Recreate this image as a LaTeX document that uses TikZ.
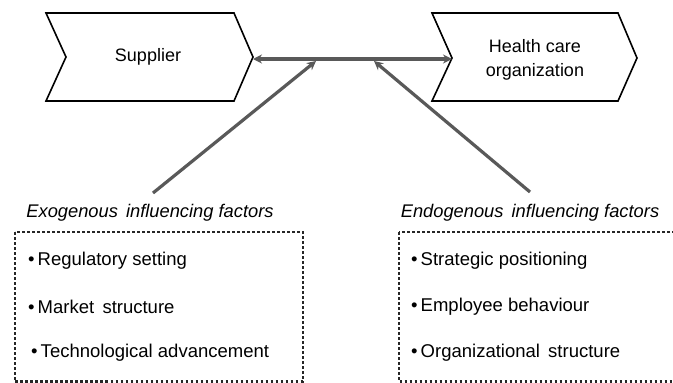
\documentclass[tikz,border=0pt]{standalone}
\usepackage{fontspec}
\setmainfont{Liberation Sans}
\usetikzlibrary{arrows.meta}
\definecolor{arrgray}{HTML}{595959}
\begin{document}
\begin{tikzpicture}[x=1pt,y=-1pt,
  chev/.style={draw=black,line width=1.6pt,line join=miter},
  conn/.style={draw=arrgray,line width=3.2pt},
  tipA/.style={-{Stealth[length=9pt,width=9pt]}},
  tipB/.style={{Stealth[length=9pt,width=9pt]}-{Stealth[length=9pt,width=9pt]}},
  lbl/.style={font=\fontsize{18}{24}\selectfont,align=center,inner sep=0pt},
  head/.style={font=\fontsize{18.3}{22}\selectfont\itshape,inner sep=0pt},
  item/.style={font=\fontsize{18.5}{22}\selectfont,inner sep=0pt,anchor=west},
  dotbox/.style={draw=black!85,line width=2.9pt,dash pattern=on 2.7pt off 2.3pt}]
\useasboundingbox (0,0) rectangle (673,383);
\begin{scope}
\clip (0,0) rectangle (673,383);
% chevrons
\draw[chev] (46,13) -- (234,13) -- (253,57) -- (234,101) -- (46,101) -- (66,57) -- cycle;
\draw[chev] (432,13) -- (618,13) -- (637,58) -- (618,101) -- (432,101) -- (452,58) -- cycle;
\coordinate (suptip) at (253,59);
\coordinate (hconotch) at (452,59);
\node[lbl] (sup) at (148,57) {Supplier};
\node[lbl] (hco) at (535,60) {Health care\\organization};
% boxes
\draw[dotbox] (15,232) rectangle (303,381.5);
\draw[dotbox] (399,232) rectangle (690,381.5);
\node[head] (exo) at (150,213) {Exogenous\, influencing factors};
\node[head] (endo) at (530,213) {Endogenous\, influencing factors};
\node[item] (r1) at (28,261) {\textbullet\,Regulatory setting};
\node[item] (r2) at (28,307) {\textbullet\,Market\, structure};
\node[item] (r3) at (31,353) {\textbullet\,Technological advancement};
\node[item] (e1) at (411,261) {\textbullet\,Strategic positioning};
\node[item] (e2) at (411,307) {\textbullet\,Employee behaviour};
\node[item] (e3) at (411,353) {\textbullet\,Organizational\, structure};
% connectors
\coordinate (exotop) at (153,193);
\coordinate (endotop) at (530,192);
\coordinate (m1) at (316,61);
\coordinate (m2) at (374,61);
\draw[conn,tipB] (suptip) -- (hconotch);
\draw[conn,tipA] (exotop) -- (m1);
\draw[conn,tipA] (endotop) -- (m2);
\end{scope}
\end{tikzpicture}
\end{document}
